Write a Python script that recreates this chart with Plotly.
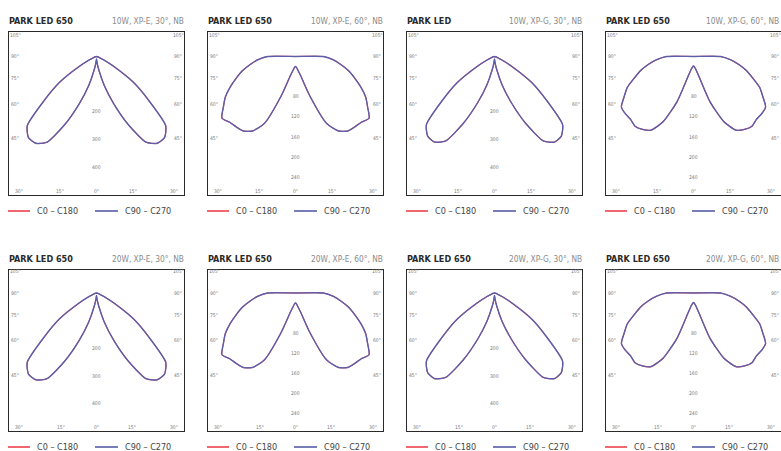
import numpy as np
import plotly.graph_objects as go

W, H = 781, 451

# ---------------- data ----------------
# vertical angles (gamma, degrees from nadir)
gamma = [0, 5, 10, 15, 20, 25, 30, 35, 40, 45, 50, 55, 60, 65, 70, 75, 80, 85, 90, 180]
# luminous intensity (cd/klm), symmetric planes
xpe_30 = [9, 22, 51, 109, 182, 273, 360, 385, 385, 356, 247, 164, 73, 29, 11, 4, 0, 0, 0, 0]
xpe_60 = [20, 22, 28, 40, 84, 148, 172, 182, 184, 186, 192, 176, 162, 144, 126, 110, 92, 76, 56, 0]
xpg_30 = [9, 22, 50, 106, 178, 268, 354, 380, 378, 350, 246, 166, 76, 30, 11, 4, 0, 0, 0, 0]
xpg_60 = [19, 21, 26, 40, 96, 144, 170, 178, 182, 178, 178, 176, 160, 146, 126, 110, 92, 74, 54, 0]

titles = ["PARK LED 650", "PARK LED 650", "PARK LED", "PARK LED 650",
          "PARK LED 650", "PARK LED 650", "PARK LED 650", "PARK LED 650"]
specs = ["10W, XP-E, 30°, NB", "10W, XP-E, 60°, NB", "10W, XP-G, 30°, NB", "10W, XP-G, 60°, NB",
         "20W, XP-E, 30°, NB", "20W, XP-E, 60°, NB", "20W, XP-G, 30°, NB", "20W, XP-G, 60°, NB"]
c90_series = [xpe_30, xpe_60, xpg_30, xpg_60, xpe_30, xpe_60, xpg_30, xpg_60]
c0_series = [xpe_30, xpe_60, xpg_30, xpg_60, xpe_30, xpe_60, xpg_30, xpg_60]
ticks_30 = [200, 300, 400]
ticks_60 = [80, 120, 160, 200, 240]
radial_ticks = [ticks_30, ticks_60, ticks_30, ticks_60, ticks_30, ticks_60, ticks_30, ticks_60]
angle_ticks = [0, 15, 30, 45, 60, 75, 90, 105]
legend_names = ["C0 – C180", "C90 – C270"]

# ---------------- layout geometry (px) ----------------
box_left = [9, 208, 407, 606]
box_w = 175
row_top = [32, 270]
row_bottom = [195, 431]
row_cy = [56.5, 293]
title_y = [21.5, 258.5]
legend_y = [211, 447]
legend_line_x = [(-1, 21), (86, 109)]   # key line extents relative to box left
legend_text_x = [26, 114]
px_per_unit = [0.275, 0.5, 0.275, 0.5, 0.275, 0.5, 0.275, 0.5]

FONT = "DejaVu Sans Condensed, Liberation Sans Narrow, sans-serif"
BLUE = "#5c5eaa"
RED = "#ec3440"
KEY_BLUE = "#4a52a0"

fig = go.Figure()
annotations = []
shapes = []
layout_upd = {}

for i in range(8):
    r, c = divmod(i, 4)
    s = px_per_unit[i]
    x0 = box_left[c]
    x1 = x0 + box_w
    half = box_w / 2
    top, bot, cy = row_top[r], row_bottom[r], row_cy[r]
    ax = "" if i == 0 else str(i + 1)
    xa, ya = "x" + ax, "y" + ax

    layout_upd["xaxis" + ax] = dict(
        domain=[x0 / W, min(x1 / W, 1)], range=[-half / s, half / s], anchor=ya,
        showgrid=False, zeroline=False, showticklabels=False, ticks="",
        showline=True, mirror=True, linecolor="#2a2a2a", linewidth=1.4, fixedrange=True)
    layout_upd["yaxis" + ax] = dict(
        domain=[1 - bot / H, 1 - top / H], range=[-(bot - cy) / s, (cy - top) / s], anchor=xa,
        showgrid=False, zeroline=False, showticklabels=False, ticks="",
        showline=True, mirror=True, linecolor="#2a2a2a", linewidth=1.4, fixedrange=True)

    g = np.radians(np.array(gamma, dtype=float))
    for name, data, col, lw in ((legend_names[0], c0_series[i], RED, 1.1),
                                (legend_names[1], c90_series[i], BLUE, 1.4)):
        I = np.array(data, dtype=float)
        th = np.concatenate([-g[::-1], g[1:]])
        rr = np.concatenate([I[::-1], I[1:]])
        fig.add_trace(go.Scatter(
            x=rr * np.sin(th), y=-rr * np.cos(th), mode="lines", name=name,
            line=dict(color=col, width=lw, shape="spline", smoothing=0.6),
            xaxis=xa, yaxis=ya, showlegend=False, hoverinfo="skip"))

    # angle labels where 15° rays meet the inner frame
    Xi = (half - 6) / s
    Yb = (bot - cy - 4) / s
    for a in angle_ticks:
        sa, ca = np.sin(np.radians(a)), np.cos(np.radians(a))
        cands = []
        if sa > 1e-9:
            cands.append(Xi / sa)
        if ca > 1e-9:
            cands.append(Yb / ca)
        t = min(cands)
        sides = [1] if a == 0 else [-1, 1]
        for sd in sides:
            annotations.append(dict(
                x=sd * t * sa, y=-t * ca, xref=xa, yref=ya, text=f"{a}°",
                showarrow=False, font=dict(size=5, color="#777", family=FONT)))
    for v in radial_ticks[i]:
        annotations.append(dict(
            x=0, y=-v, xref=xa, yref=ya, text=str(v), showarrow=False,
            font=dict(size=5, color="#777", family=FONT)))

    # panel heading
    annotations.append(dict(
        x=(x0 - 2) / W, y=1 - title_y[r] / H, xref="paper", yref="paper", xanchor="left",
        yanchor="middle", text=titles[i], showarrow=False,
        font=dict(size=9, color="#2a2a2a", family=FONT, weight="bold")))
    annotations.append(dict(
        x=min((x1 + 2) / W, 1), y=1 - title_y[r] / H, xref="paper", yref="paper",
        xanchor="right", yanchor="middle", text=specs[i], showarrow=False,
        font=dict(size=8.3, color="#8a8a8a", family=FONT)))

    # key below each panel
    ly = 1 - legend_y[r] / H
    for k, (name, col) in enumerate(zip(legend_names, [RED, KEY_BLUE])):
        lx0, lx1 = legend_line_x[k]
        shapes.append(dict(
            type="line", xref="paper", yref="paper", x0=(x0 + lx0) / W, x1=min((x0 + lx1) / W, 1),
            y0=ly, y1=ly, line=dict(color=col, width=1.5)))
        annotations.append(dict(
            x=(x0 + legend_text_x[k]) / W, y=ly, xref="paper", yref="paper",
            xanchor="left", yanchor="middle", text=name, showarrow=False,
            font=dict(size=9, color="#444", family=FONT)))

fig.update_layout(layout_upd)
fig.update_layout(
    width=W, height=H, margin=dict(l=0, r=0, t=0, b=0),
    paper_bgcolor="white", plot_bgcolor="white", showlegend=False,
    annotations=annotations, shapes=shapes, hovermode=False)

fig.write_html(
    "out.html", config={"displayModeBar": False},
    post_script="document.documentElement.style.overflow='hidden';"
                "document.body.style.margin='0px';document.body.style.overflow='hidden';")
